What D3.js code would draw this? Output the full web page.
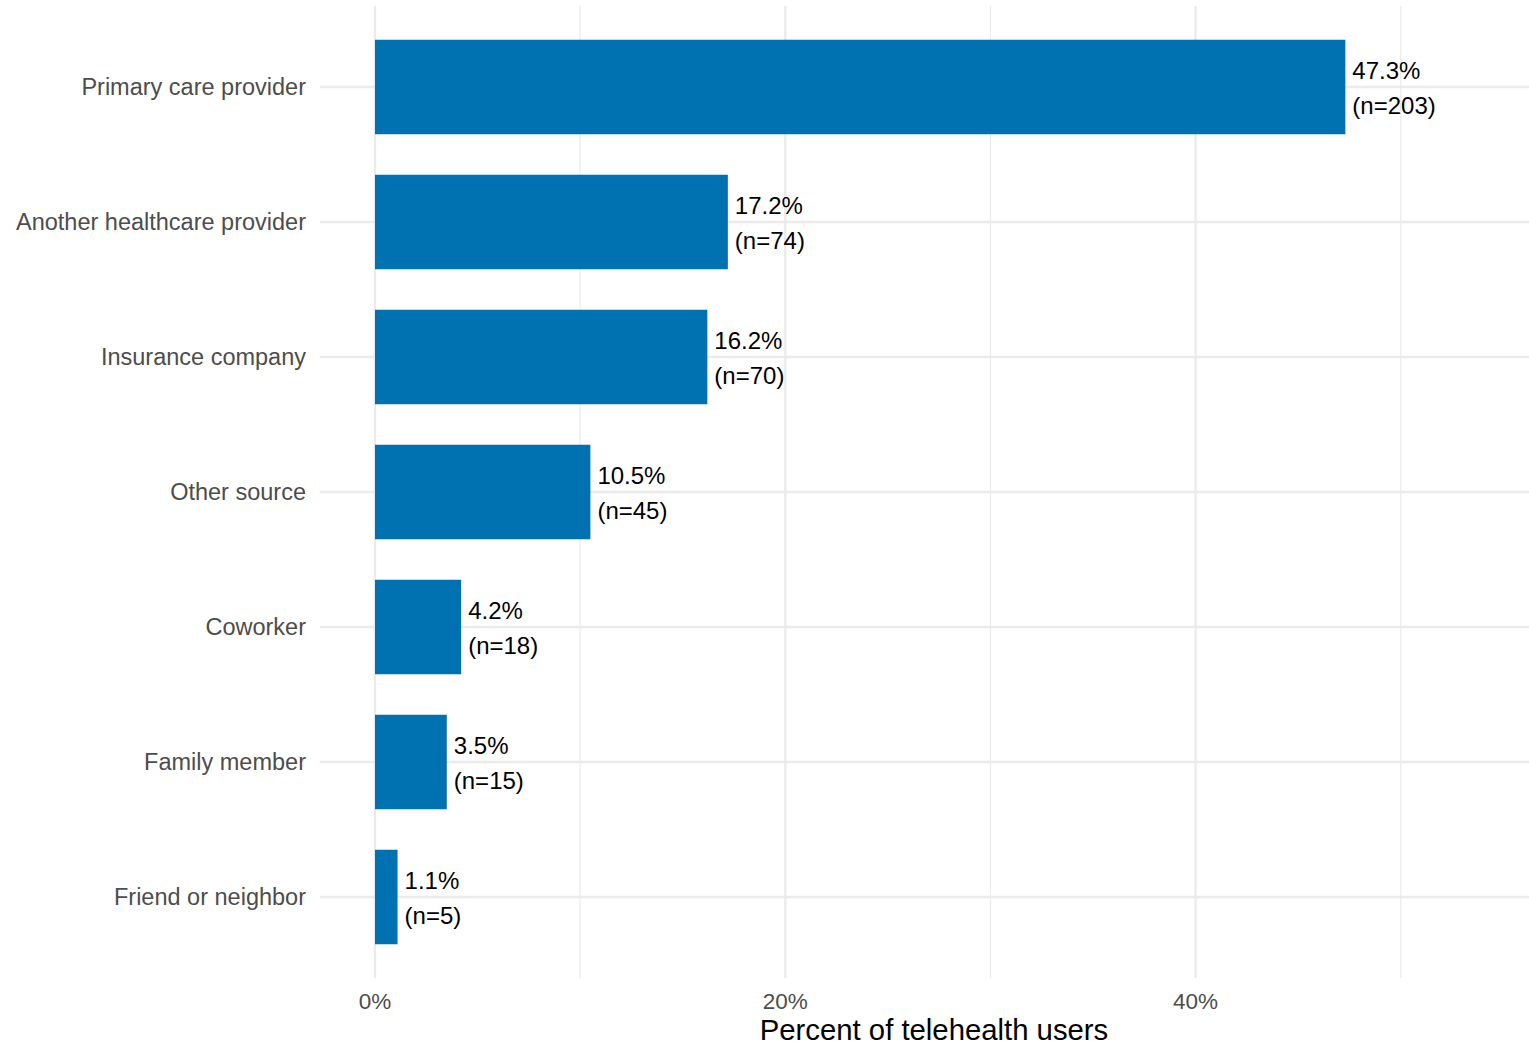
<!DOCTYPE html>
<html>
<head>
<meta charset="utf-8">
<script src="https://cdn.jsdelivr.net/npm/d3@7"></script>
<style>
  html, body { margin: 0; padding: 0; background: #fff; }
  svg { display: block; font-family: "Liberation Sans", Arial, sans-serif; }
</style>
</head>
<body>
<svg id="chart" width="1529" height="1045"></svg>
<script>
// Where telehealth users heard about telehealth
const categories = [
  "Primary care provider",
  "Another healthcare provider",
  "Insurance company",
  "Other source",
  "Coworker",
  "Family member",
  "Friend or neighbor"
];
const percents = [47.3, 17.2, 16.2, 10.5, 4.2, 3.5, 1.1];
const counts = [203, 74, 70, 45, 18, 15, 5];
const xTicks = [0, 20, 40];
const xMinor = [10, 30, 50];
const xTitle = "Percent of telehealth users";

const svg = d3.select("#chart");
const panel = { left: 320, right: 1530, top: 6, bottom: 978 };

const x = d3.scaleLinear()
  .domain([-2.68, 56.3])
  .range([panel.left, panel.right]);

// category centres, with 0.6 of a step of space at each end
const y = d3.scalePoint()
  .domain(categories)
  .range([panel.top, panel.bottom])
  .padding(0.6);
const barH = y.step() * 0.7;

const grid = svg.append("g");
grid.selectAll("line.minor").data(xMinor).join("line")
  .attr("x1", d => x(d)).attr("x2", d => x(d))
  .attr("y1", panel.top).attr("y2", panel.bottom)
  .attr("stroke", "#ebebeb").attr("stroke-width", 1.2);
grid.selectAll("line.major").data(xTicks).join("line")
  .attr("x1", d => x(d)).attr("x2", d => x(d))
  .attr("y1", panel.top).attr("y2", panel.bottom)
  .attr("stroke", "#ebebeb").attr("stroke-width", 2.4);
grid.selectAll("line.hy").data(categories).join("line")
  .attr("x1", panel.left).attr("x2", panel.right)
  .attr("y1", d => y(d))
  .attr("y2", d => y(d))
  .attr("stroke", "#ebebeb").attr("stroke-width", 2.4);

const rows = categories.map((c, i) => ({ c, p: percents[i], n: counts[i] }));

svg.append("g").selectAll("rect").data(rows).join("rect")
  .attr("x", x(0))
  .attr("y", d => y(d.c) - barH / 2)
  .attr("width", d => x(d.p) - x(0))
  .attr("height", barH)
  .attr("fill", "#0072B2");

const labels = svg.append("g").selectAll("text").data(rows).join("text")
  .attr("x", d => x(d.p) + 7)
  .attr("y", d => y(d.c))
  .attr("font-size", 24)
  .attr("fill", "#000");
labels.append("tspan").attr("x", d => x(d.p) + 7).attr("dy", -8.5)
  .text(d => d.p.toFixed(1) + "%");
labels.append("tspan").attr("x", d => x(d.p) + 7).attr("dy", 35)
  .text(d => "(n=" + d.n + ")");

// y axis labels
svg.append("g").selectAll("text").data(categories).join("text")
  .attr("x", panel.left - 14)
  .attr("y", d => y(d))
  .attr("dy", "0.35em")
  .attr("text-anchor", "end")
  .attr("font-size", 23.5)
  .attr("fill", "#4d4d4d")
  .text(d => d);

// x axis labels
svg.append("g").selectAll("text").data(xTicks).join("text")
  .attr("x", d => x(d))
  .attr("y", 1001)
  .attr("dy", "0.35em")
  .attr("text-anchor", "middle")
  .attr("font-size", 22.5)
  .attr("fill", "#4d4d4d")
  .text(d => d + "%");

svg.append("text")
  .attr("x", 934)
  .attr("y", 1040)
  .attr("text-anchor", "middle")
  .attr("font-size", 29.3)
  .attr("fill", "#000")
  .text(xTitle);
</script>
</body>
</html>
